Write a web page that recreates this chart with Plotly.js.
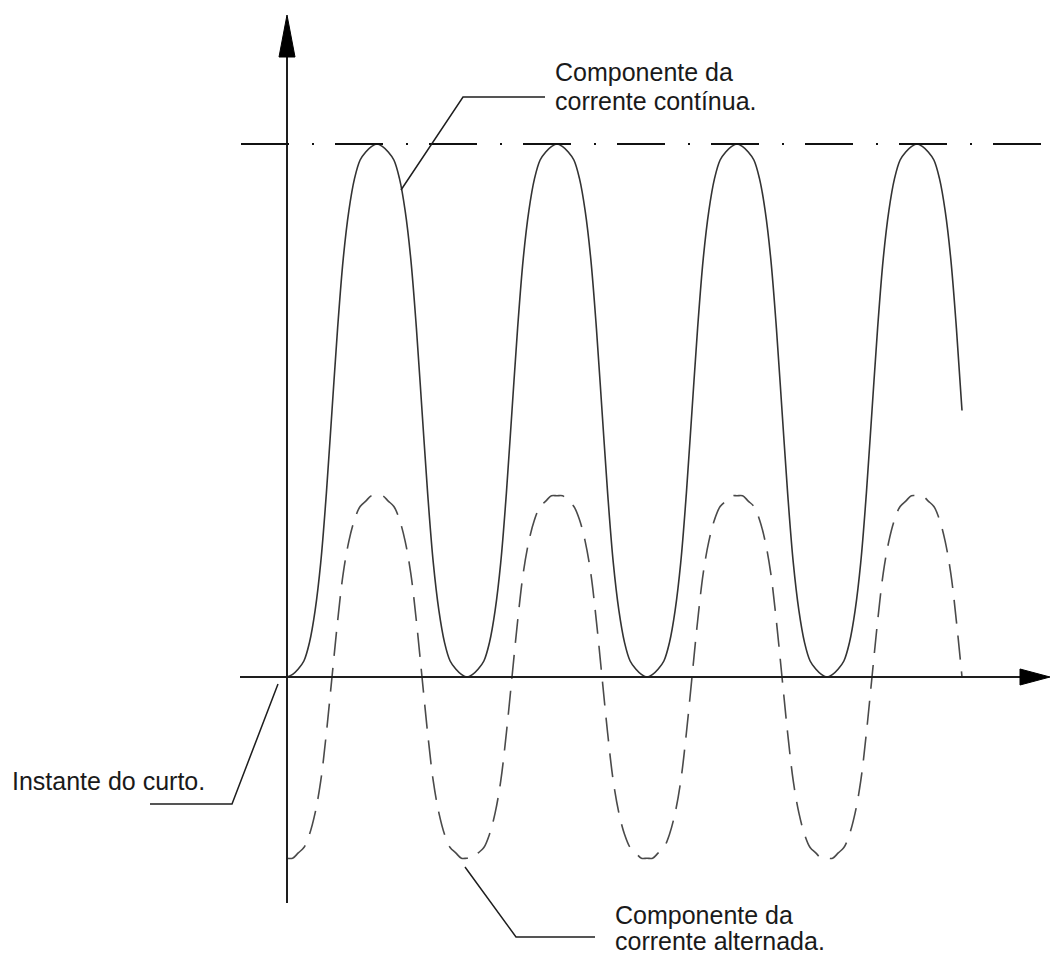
<!DOCTYPE html>
<html>
<head>
<meta charset="utf-8">
<script src="https://cdn.plot.ly/plotly-3.0.1.min.js"></script>
<style>html,body{margin:0;padding:0;background:#fff;}#chart{width:1051px;height:955px;}</style>
</head>
<body>
<div id="chart"></div>
<script>
// Time (ms) and read-off values (per-unit) of the two components
const time = [
  0,0.625,1.25,1.875,2.5,3.125,3.75,4.375,5,5.625,6.25,6.875,7.5,8.125,8.75,9.375,
  10,10.625,11.25,11.875,12.5,13.125,13.75,14.375,15,15.625,16.25,16.875,17.5,18.125,18.75,19.375,
  20,20.625,21.25,21.875,22.5,23.125,23.75,24.375,25,25.625,26.25,26.875,27.5,28.125,28.75,29.375,
  30,30.625,31.25,31.875,32.5,33.125,33.75,34.375,35,35.625,36.25,36.875,37.5,38.125,38.75,39.375,
  40,40.625,41.25,41.875,42.5,43.125,43.75,44.375,45,45.625,46.25,46.875,47.5,48.125,48.75,49.375,
  50,50.625,51.25,51.875,52.5,53.125,53.75,54.375,55,55.625,56.25,56.875,57.5,58.125,58.75,59.375,
  60,60.625,61.25,61.875,62.5,63.125,63.75,64.375,65,65.625,66.25,66.875,67.5,68.125,68.75,69.375,
  70,70.625,71.25,71.875,72.5,73.125,73.75,74.375,75];
const solidCurve = [
  0,0.01,0.03,0.06,0.13,0.25,0.43,0.69,1.0,1.31,1.57,1.75,1.87,1.94,1.97,1.99,
  2.0,1.99,1.97,1.94,1.87,1.75,1.57,1.31,1.0,0.69,0.43,0.25,0.13,0.06,0.03,0.01,
  0,0.01,0.03,0.06,0.13,0.25,0.43,0.69,1.0,1.31,1.57,1.75,1.87,1.94,1.97,1.99,
  2.0,1.99,1.97,1.94,1.87,1.75,1.57,1.31,1.0,0.69,0.43,0.25,0.13,0.06,0.03,0.01,
  0,0.01,0.03,0.06,0.13,0.25,0.43,0.69,1.0,1.31,1.57,1.75,1.87,1.94,1.97,1.99,
  2.0,1.99,1.97,1.94,1.87,1.75,1.57,1.31,1.0,0.69,0.43,0.25,0.13,0.06,0.03,0.01,
  0,0.01,0.03,0.06,0.13,0.25,0.43,0.69,1.0,1.31,1.57,1.75,1.87,1.94,1.97,1.99,
  2.0,1.99,1.97,1.94,1.87,1.75,1.57,1.31,1.0];
const dashedCurve = [
  -0.68,-0.68,-0.66,-0.64,-0.59,-0.51,-0.39,-0.21,0,0.21,0.39,0.51,0.59,0.64,0.66,0.68,
  0.68,0.68,0.66,0.64,0.59,0.51,0.39,0.21,0,-0.21,-0.39,-0.51,-0.59,-0.64,-0.66,-0.68,
  -0.68,-0.68,-0.66,-0.64,-0.59,-0.51,-0.39,-0.21,0,0.21,0.39,0.51,0.59,0.64,0.66,0.68,
  0.68,0.68,0.66,0.64,0.59,0.51,0.39,0.21,0,-0.21,-0.39,-0.51,-0.59,-0.64,-0.66,-0.68,
  -0.68,-0.68,-0.66,-0.64,-0.59,-0.51,-0.39,-0.21,0,0.21,0.39,0.51,0.59,0.64,0.66,0.68,
  0.68,0.68,0.66,0.64,0.59,0.51,0.39,0.21,0,-0.21,-0.39,-0.51,-0.59,-0.64,-0.66,-0.68,
  -0.68,-0.68,-0.66,-0.64,-0.59,-0.51,-0.39,-0.21,0,0.21,0.39,0.51,0.59,0.64,0.66,0.68,
  0.68,0.68,0.66,0.64,0.59,0.51,0.39,0.21,0];
const peakLevel = 2.0;
const labelDC = ["Componente da", "corrente contínua."];
const labelShort = ["Instante do curto."];
const labelAC = ["Componente da", "corrente alternada."];

// pixel helpers for decorations (fixed full-frame mapping)
const X = px => (px - 287) / 9;
const Y = py => (677 - py) / 266.5;
const P = pts => 'M' + pts.map(p => X(p[0]) + ',' + Y(p[1])).join(' L');

const ink = '#1e1e1e';
const traces = [
  {x: time, y: solidCurve, mode: 'lines', line: {color: '#333', width: 1.6, shape: 'spline', smoothing: 1}, hoverinfo: 'skip'},
  {x: time, y: dashedCurve, mode: 'lines', line: {color: '#4a4a4a', width: 1.6, shape: 'spline', smoothing: 1, dash: '24px,12px'}, hoverinfo: 'skip'}
];

const shapes = [
  // axes
  {type: 'line', x0: X(240), x1: X(1025), y0: 0, y1: 0, line: {color: ink, width: 2}},
  {type: 'line', x0: 0, x1: 0, y0: Y(903), y1: Y(52), line: {color: ink, width: 2}},
  {type: 'path', path: P([[287,15],[279,57],[295,57]]) + ' Z', fillcolor: '#000', line: {color: '#000', width: 1}},
  {type: 'path', path: P([[1050,677],[1020,669],[1020,685]]) + ' Z', fillcolor: '#000', line: {color: '#000', width: 1}},
  // dash-dot peak line
  {type: 'line', x0: X(241), x1: X(1051), y0: peakLevel, y1: peakLevel, line: {color: '#111', width: 2, dash: '48px,23px,2px,21px'}},
  // leaders
  {type: 'path', path: P([[545,97],[463,97],[401,190]]), line: {color: ink, width: 1.5}},
  {type: 'path', path: P([[150,804],[232,804],[278,684]]), line: {color: ink, width: 1.5}},
  {type: 'path', path: P([[595,937],[516,937],[465,867]]), line: {color: ink, width: 1.5}}
];

const font = {family: '"Liberation Sans", Arial, sans-serif', size: 25, color: '#1a1a1a'};
function label(text, xpx, baseline) {
  return {text: text, x: X(xpx), y: Y(baseline - 9), xanchor: 'left', yanchor: 'middle', showarrow: false, font: font};
}
const annotations = [
  label(labelDC[0], 553, 81),
  label(labelDC[1], 553, 110),
  label(labelShort[0], 10, 790),
  label(labelAC[0], 613, 924),
  label(labelAC[1], 613, 950)
];

const layout = {
  width: 1051, height: 955,
  margin: {l: 0, r: 0, t: 0, b: 0},
  paper_bgcolor: '#fff', plot_bgcolor: '#fff',
  showlegend: false,
  xaxis: {range: [X(0), X(1051)], visible: false, fixedrange: true},
  yaxis: {range: [Y(955), Y(0)], visible: false, fixedrange: true},
  shapes: shapes,
  annotations: annotations
};
Plotly.newPlot('chart', traces, layout, {displayModeBar: false, staticPlot: true});
</script>
</body>
</html>
